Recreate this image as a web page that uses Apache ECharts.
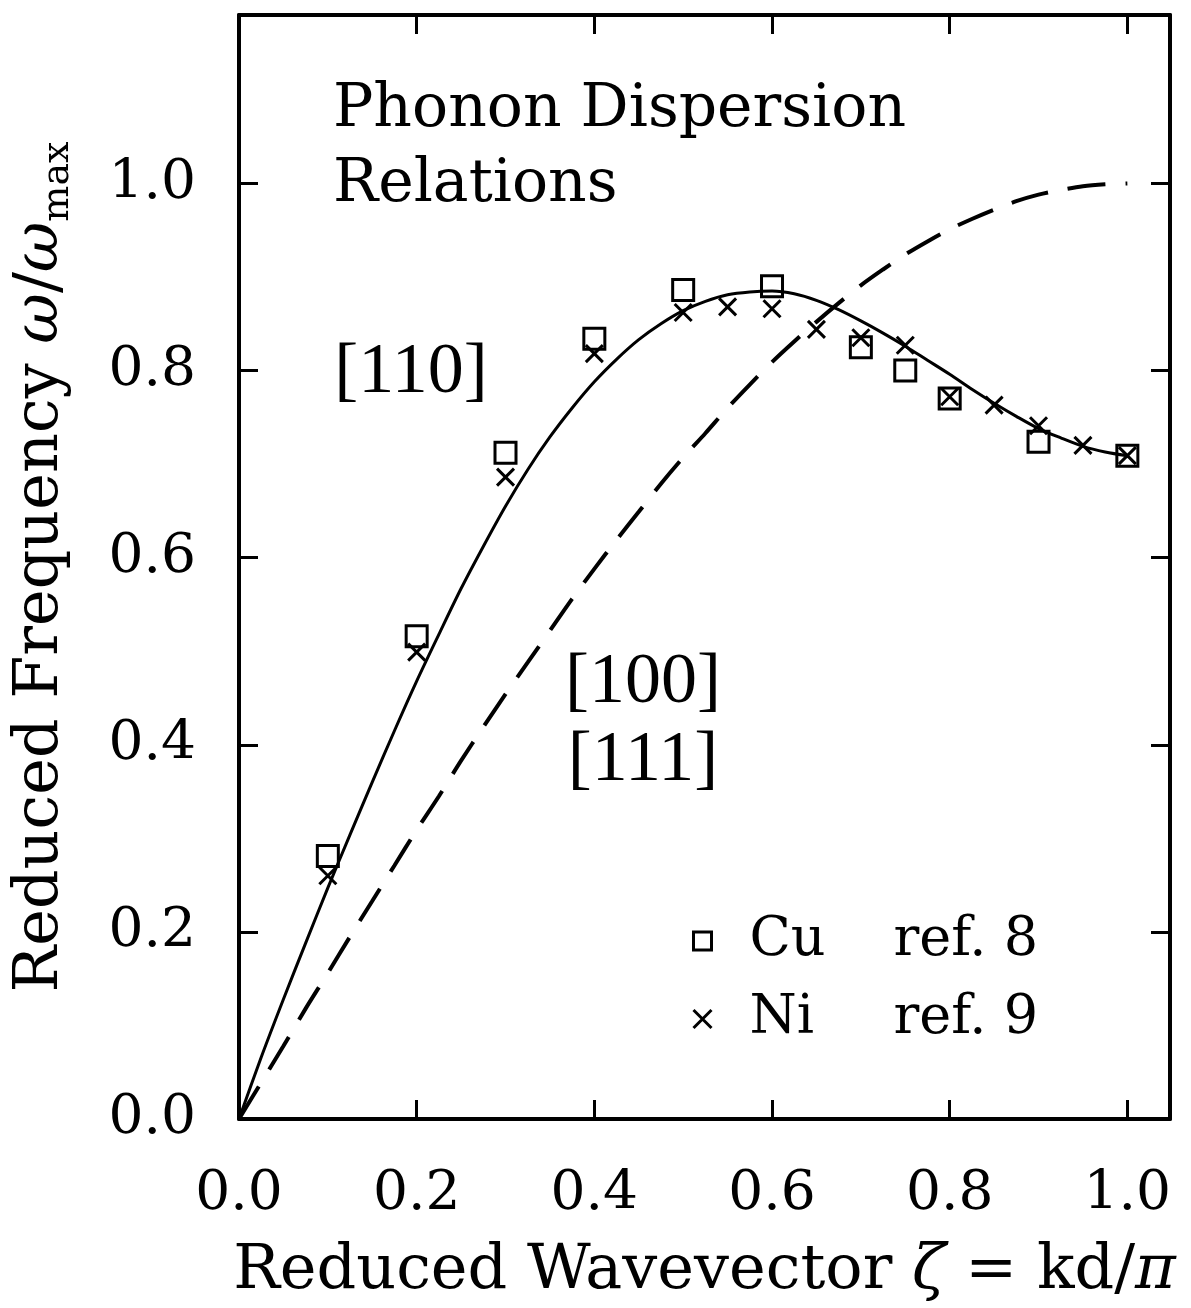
<!DOCTYPE html>
<html><head><meta charset="utf-8">
<script src="https://cdn.jsdelivr.net/npm/echarts@6/dist/echarts.min.js"></script>
<style>html,body{margin:0;padding:0;background:#fff}#c{width:1191px;height:1308px}</style>
</head><body><div id="c"></div>
<script>
// ---- data ----
const zeta = [0, 0.025, 0.05, 0.075, 0.1, 0.125, 0.15, 0.175, 0.2, 0.225, 0.25, 0.275, 0.3, 0.325, 0.35, 0.375, 0.4, 0.425, 0.45, 0.475, 0.5,
              0.525, 0.55, 0.575, 0.6, 0.625, 0.65, 0.675, 0.7, 0.725, 0.75, 0.775, 0.8, 0.825, 0.85, 0.875, 0.9, 0.925, 0.95, 0.975, 1.0];
const curve110 = [0, 0.066, 0.128, 0.188, 0.247, 0.304, 0.360, 0.415, 0.468, 0.518, 0.567, 0.612, 0.655, 0.694, 0.729, 0.760, 0.788, 0.812, 0.833, 0.850, 0.864,
                  0.874, 0.881, 0.884, 0.885, 0.882, 0.875, 0.865, 0.853, 0.840, 0.826, 0.811, 0.796, 0.780, 0.765, 0.751, 0.738, 0.728, 0.719, 0.713, 0.709];
const curve100 = [0, 0.039, 0.078, 0.118, 0.156, 0.195, 0.233, 0.271, 0.309, 0.345, 0.383, 0.419, 0.454, 0.488, 0.522, 0.556, 0.588, 0.619, 0.649, 0.679, 0.707,
                  0.733, 0.760, 0.785, 0.809, 0.831, 0.852, 0.872, 0.891, 0.908, 0.924, 0.938, 0.951, 0.962, 0.972, 0.981, 0.988, 0.993, 0.997, 0.999, 1.0];
const cuZeta = [0.1, 0.2, 0.3, 0.4, 0.5, 0.6, 0.7, 0.75, 0.8, 0.9, 1.0];
const cuFreq = [0.281, 0.516, 0.712, 0.834, 0.886, 0.890, 0.825, 0.800, 0.770, 0.724, 0.709];
const niZeta = [0.1, 0.2, 0.3, 0.4, 0.5, 0.55, 0.6, 0.65, 0.7, 0.75, 0.8, 0.85, 0.9, 0.95, 1.0];
const niFreq = [0.260, 0.499, 0.686, 0.818, 0.862, 0.868, 0.866, 0.844, 0.835, 0.827, 0.772, 0.763, 0.741, 0.720, 0.709];
const xTickValues = [0, 0.2, 0.4, 0.6, 0.8, 1.0];
const xTickLabels = ['0.0', '0.2', '0.4', '0.6', '0.8', '1.0'];
const yTickValues = [0, 0.2, 0.4, 0.6, 0.8, 1.0];
const yTickLabels = ['0.0', '0.2', '0.4', '0.6', '0.8', '1.0'];
const legendRefs = { Cu: 'ref. 8', Ni: 'ref. 9' };

const FONT = "'DejaVu Serif', serif";
const CROSS = 'path://M0,0L10,10M10,0L0,10';

function lab(values, labels) {
  return v => { const i = values.findIndex(t => Math.abs(t - v) < 1e-6); return i >= 0 ? labels[i] : ''; };
}
const axisCommon = {
  type: 'value', splitLine: { show: false },
  axisLine: { show: true, onZero: false, lineStyle: { color: '#000', width: 4 } },
  axisTick: { show: true, inside: true, length: 19, lineStyle: { color: '#000', width: 3 } }
};
const hollow = { color: 'rgba(0,0,0,0)', borderColor: '#000', borderWidth: 3, opacity: 1 };

const chart = echarts.init(document.getElementById('c'));
chart.setOption({
  animation: false,
  backgroundColor: '#fff',
  grid: { left: 239, right: 21, top: 15, bottom: 186 },
  xAxis: [
    Object.assign({}, axisCommon, {
      position: 'bottom', min: 0, max: 1.048, interval: 0.2,
      axisLabel: { margin: 48, fontFamily: FONT, fontSize: 55, color: '#000', formatter: lab(xTickValues, xTickLabels) },
      name: '{t|Reduced Wavevector }{g|ζ}{t| = kd/}{g|π}', nameLocation: 'middle', nameGap: 122,
      nameTextStyle: { rich: {
        t: { fontFamily: FONT, fontSize: 62, color: '#000' },
        g: { fontFamily: FONT, fontSize: 62, fontStyle: 'italic', color: '#000' } } }
    }),
    Object.assign({}, axisCommon, { position: 'top', min: 0, max: 1.048, interval: 0.2, axisLabel: { show: false } })
  ],
  yAxis: [
    Object.assign({}, axisCommon, {
      position: 'left', min: 0, max: 1.18, interval: 0.2,
      axisLabel: { margin: 43, fontFamily: FONT, fontSize: 55, color: '#000', formatter: lab(yTickValues, yTickLabels) },
      name: '{t|Reduced Frequency }{g|ω}{t|/}{g|ω}{s|max}', nameLocation: 'middle', nameGap: 162, nameRotate: 90,
      nameTextStyle: { rich: {
        t: { fontFamily: FONT, fontSize: 62, color: '#000', lineHeight: 72 },
        g: { fontFamily: FONT, fontSize: 62, fontStyle: 'italic', color: '#000', lineHeight: 72 },
        s: { fontFamily: FONT, fontSize: 38, color: '#000', verticalAlign: 'bottom', lineHeight: 72 } } }
    }),
    Object.assign({}, axisCommon, { position: 'right', min: 0, max: 1.18, interval: 0.2, axisLabel: { show: false } })
  ],
  legend: {
    orient: 'vertical', left: 692, top: 914, padding: 0, itemGap: 24, itemWidth: 18, itemHeight: 18,
    data: [
      { name: 'Cu', icon: 'rect', itemStyle: hollow },
      { name: 'Ni', icon: CROSS, itemStyle: hollow }
    ],
    formatter: n => '{a|' + n + '}{b|' + legendRefs[n] + '}',
    textStyle: { lineHeight: 52, rich: {
      a: { fontFamily: FONT, fontSize: 54, color: '#000', width: 144, padding: [0, 0, 0, 33] },
      b: { fontFamily: FONT, fontSize: 54, color: '#000' } } }
  },
  graphic: [
    { type: 'text', left: 333, top: 80, style: { text: 'Phonon Dispersion', font: "60px 'DejaVu Serif'", fill: '#000' } },
    { type: 'text', left: 333, top: 155, style: { text: 'Relations', font: "60px 'DejaVu Serif'", fill: '#000' } },
    { type: 'text', x: 411, y: 373, style: { text: '[110]', font: "72px 'Liberation Serif'", fill: '#000', align: 'center', verticalAlign: 'middle' } },
    { type: 'text', x: 643, y: 683, style: { text: '[100]', font: "72px 'Liberation Serif'", fill: '#000', align: 'center', verticalAlign: 'middle' } },
    { type: 'text', x: 643, y: 761, style: { text: '[111]', font: "72px 'Liberation Serif'", fill: '#000', align: 'center', verticalAlign: 'middle' } }
  ],
  series: [
    { name: '[110]', type: 'line', smooth: 0.3, showSymbol: false, symbol: 'none',
      lineStyle: { color: '#000', width: 3 }, data: zeta.map((x, i) => [x, curve110[i]]), z: 3 },
    { name: '[100]/[111]', type: 'line', smooth: 0.3, showSymbol: false, symbol: 'none',
      lineStyle: { color: '#000', width: 4, type: [38, 20] }, data: zeta.map((x, i) => [x, curve100[i]]), z: 3 },
    { name: 'Cu', type: 'scatter', symbol: 'rect', symbolSize: 21,
      itemStyle: hollow, data: cuZeta.map((x, i) => [x, cuFreq[i]]), z: 4 },
    { name: 'Ni', type: 'scatter', symbol: CROSS, symbolSize: 17,
      itemStyle: hollow, data: niZeta.map((x, i) => [x, niFreq[i]]), z: 4 }
  ]
});
</script></body></html>
